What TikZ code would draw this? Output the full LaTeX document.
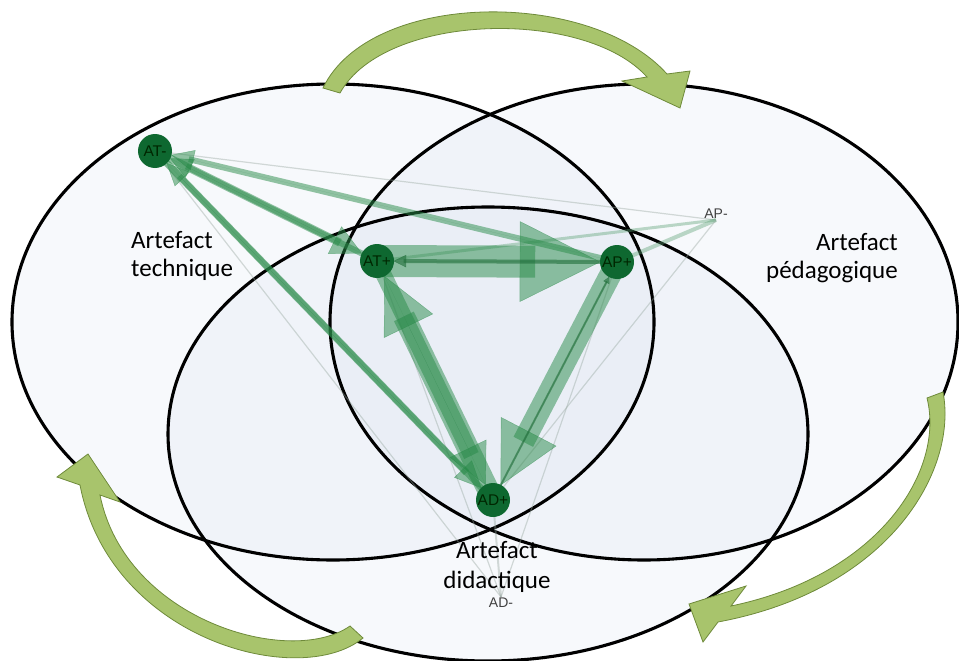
\documentclass[tikz,border=0pt]{standalone}
\usepackage{fontspec}
\setmainfont{Carlito}
\newfontfamily\arialf{Liberation Sans}
\usetikzlibrary{calc}
\definecolor{ellfill}{RGB}{200,212,232}
\definecolor{bandgreen}{RGB}{40,138,72}
\definecolor{nodegreen}{RGB}{14,104,48}
\definecolor{arrowfill}{RGB}{168,196,108}
\definecolor{arrowline}{RGB}{110,138,58}
\definecolor{thingreen}{RGB}{90,160,115}
\definecolor{thingray}{RGB}{150,165,158}
\pgfdeclarelayer{bg}
\pgfdeclarelayer{edges}
\pgfsetlayers{bg,edges,main}
\tikzset{
 ell/.style={fill=ellfill, fill opacity=0.15},
 ellline/.style={draw=black, line width=3.1pt},
 band/.style={draw=bandgreen, fill=bandgreen, opacity=0.5},
 banddark/.style={draw=bandgreen!80!black, fill=bandgreen!80!black, opacity=0.6},
 lightedge/.style={draw=thingreen, opacity=0.4},
 grayedge/.style={draw=thingray, opacity=0.4, line width=1.2pt},
 gnode/.style={circle, fill=nodegreen, minimum size=34pt, inner sep=0pt, font=\arialf\fontsize{15.5}{15.5}\selectfont, text=black!85!green},
 smalllabel/.style={font=\arialf\fontsize{14}{14}\selectfont, text=black!75, inner sep=1pt},
 biglabel/.style={font=\fontsize{25}{30}\selectfont, inner sep=0pt},
 bigarrow/.style={fill=arrowfill, draw=arrowline, line width=0.8pt, line join=miter},
}
\newcommand\gedge[6][band]{%
  \pgfmathsetmacro\gHB{17+#5}%
  \pgfmathsetmacro\gBE{17+0.81*#5}%
  \coordinate (gtip) at ($(#3.center)!17pt!(#2.center)$);
  \coordinate (gbase) at ($(#3.center)!\gHB pt!(#2.center)$);
  \draw[#1, line width=#4pt] (#2.center) -- ($(#3.center)!\gBE pt!(#2.center)$);
  \fill[#1] (gtip) -- ($(gbase)!#6pt!90:(gtip)$) -- ($(gbase)!#6pt!-90:(gtip)$) -- cycle;
}
\begin{document}
\begin{tikzpicture}[x=1pt,y=-1pt]
\useasboundingbox (0,0) rectangle (959,661);
\begin{pgfonlayer}{bg}
  \fill[ell] (333,322) ellipse [x radius=321, y radius=238];
  \fill[ell] (644,322) ellipse [x radius=314, y radius=238];
  \fill[ell] (488,434) ellipse [x radius=320, y radius=227];
  \draw[ellline] (333,322) ellipse [x radius=321, y radius=238];
  \draw[ellline] (644,322) ellipse [x radius=314, y radius=238];
  \draw[ellline] (488,434) ellipse [x radius=320, y radius=227];
\end{pgfonlayer}

% network nodes
\node[gnode] (ATm) at (155,151) {AT-};
\node[gnode] (ATp) at (377,261) {AT+};
\node[gnode] (APp) at (617,262) {AP+};
\node[gnode] (ADp) at (493,500) {AD+};
\node[smalllabel] (APm) at (716,214) {AP-};
\node[smalllabel] (ADm) at (501,603) {AD-};

\begin{pgfonlayer}{edges}
  % thin edges
  \draw[grayedge] (ATm.center) -- (APm.south);
  \draw[lightedge, line width=3pt] (APm.south) -- (ATp.center);
  \draw[lightedge, line width=4pt] (APm.south) -- (APp.center);
  \draw[grayedge] (APm.south) -- (ADp.center);
  \draw[grayedge] (ADm.north) -- (ATm.center);
  \draw[grayedge] (ADm.north) -- (ATp.center);
  \draw[grayedge] (ADm.north) -- (APp.center);
  \draw[grayedge, line width=2pt] (ADm.north) -- (ADp.center);
  % weighted directed edges
  \gedge{ADp}{ATp}{22}{55}{27}
  \gedge{ATp}{ADp}{16}{40}{20}
  \gedge{APp}{ADp}{22}{60}{31}
  \gedge{ATp}{APp}{32}{80}{40}
  \gedge[banddark]{APp}{ATp}{4}{12}{6}
  \gedge[banddark]{ADp}{APp}{2}{6}{3}
  \gedge{ATm}{ADp}{7}{26}{12}
  \gedge{ADp}{ATm}{6}{22}{10}
  \gedge{ATm}{ATp}{8}{30}{15}
  \gedge{ATp}{ATm}{6}{22}{10}
  \gedge{APp}{ATm}{6}{22}{10}
\end{pgfonlayer}

% labels
\node[biglabel, anchor=base west] (lt1) at (131,248) {Artefact};
\node[biglabel, anchor=base west] (lt2) at (131,276) {technique};
\node[biglabel, anchor=base east] (lp1) at (898,250) {Artefact};
\node[biglabel, anchor=base east] (lp2) at (898,278) {pédagogique};
\node[biglabel, anchor=base] (ld1) at (497,558) {Artefact};
\node[biglabel, anchor=base] (ld2) at (497,588) {didactique};

% curved block arrows
\draw[bigarrow] (323,88) .. controls (370,-10) and (590,-12) .. (667,74)
  -- (690,71) -- (680,108) -- (622,81) -- (647,77)
  .. controls (585,8) and (385,12) .. (340,93) -- cycle;
\draw[bigarrow] (943,392) .. controls (958,470) and (890,590) .. (718,622)
  -- (703,642) -- (689,604) -- (746,586) -- (731,606)
  .. controls (880,575) and (945,470) .. (927,398) -- cycle;
\draw[bigarrow] (363,638) .. controls (300,690) and (110,640) .. (80,485)
  -- (57,477) -- (88,454) -- (120,502) -- (100,495)
  .. controls (125,620) and (290,668) .. (350,626) -- cycle;
\end{tikzpicture}
\end{document}
